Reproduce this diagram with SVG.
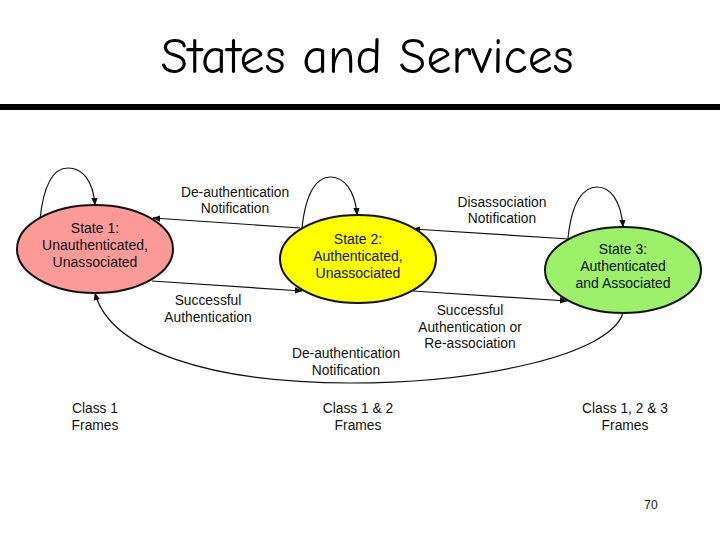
<svg xmlns="http://www.w3.org/2000/svg" width="720" height="540" viewBox="0 0 720 540">
<style>
.lbl{font-family:"Liberation Sans",Arial,sans-serif;font-size:13.8px;fill:#111;text-anchor:middle}
.st{font-family:"Liberation Sans",Arial,sans-serif;font-size:14px;fill:#111;text-anchor:middle}
.edge{fill:none;stroke:#111;stroke-width:1.2;marker-end:url(#ah)}
.node{stroke:#111;stroke-width:2}
</style>
<defs>
<marker id="ah" viewBox="0 0 10 10" refX="9" refY="5" markerWidth="8" markerHeight="8" markerUnits="userSpaceOnUse" orient="auto">
<path d="M0,1 L10,5 L0,9 Z" fill="#111"/>
</marker>
</defs>
<rect width="720" height="540" fill="#fff"/>
<text x="367" y="73" font-family="'Comic Neue','DejaVu Sans',sans-serif" font-size="50" text-anchor="middle" fill="#000">States and Services</text>
<rect x="0" y="104" width="720" height="6" fill="#000"/>

<g id="connectors">
<path class="edge" d="M40,219 C44,182 54,168 68,168 C82,168 93,180 95,205"/>
<path class="edge" d="M302,228 C306,190 318,177 330,177 C344,177 355,190 357,215"/>
<path class="edge" d="M568,238 C572,200 584,187 597,187 C610,187 621,200 623,227"/>
<path class="edge" d="M300,228 L153,218"/>
<path class="edge" d="M152,281 L302,291"/>
<path class="edge" d="M569,239 L413,229"/>
<path class="edge" d="M413,291 L567,301"/>
<path class="edge" d="M623,313 C610,355 480,383 350,383 C210,383 110,350 95,293"/>
</g>

<g id="state1">
<ellipse class="node" cx="95" cy="249" rx="78" ry="44" fill="#fc9a98"/>
<text class="st" x="95" y="233">State 1:</text>
<text class="st" x="95" y="250">Unauthenticated,</text>
<text class="st" x="95" y="267">Unassociated</text>
</g>
<g id="state2">
<ellipse class="node" cx="358" cy="259" rx="78" ry="44" fill="#ffff00"/>
<text class="st" x="358" y="244">State 2:</text>
<text class="st" x="358" y="261">Authenticated,</text>
<text class="st" x="358" y="278">Unassociated</text>
</g>
<g id="state3">
<ellipse class="node" cx="623" cy="270" rx="78" ry="43" fill="#9cf06a"/>
<text class="st" x="623" y="254">State 3:</text>
<text class="st" x="623" y="271">Authenticated</text>
<text class="st" x="623" y="288">and Associated</text>
</g>

<g id="labels">
<text class="lbl" x="235" y="197">De-authentication</text>
<text class="lbl" x="235" y="213">Notification</text>
<text class="lbl" x="208" y="305">Successful</text>
<text class="lbl" x="208" y="322">Authentication</text>
<text class="lbl" x="502" y="207">Disassociation</text>
<text class="lbl" x="502" y="223">Notification</text>
<text class="lbl" x="470" y="315">Successful</text>
<text class="lbl" x="470" y="332">Authentication or</text>
<text class="lbl" x="470" y="348">Re-association</text>
<text class="lbl" x="346" y="358">De-authentication</text>
<text class="lbl" x="346" y="375">Notification</text>
<text class="lbl" x="95" y="413">Class 1</text>
<text class="lbl" x="95" y="430">Frames</text>
<text class="lbl" x="358" y="413">Class 1 &amp; 2</text>
<text class="lbl" x="358" y="430">Frames</text>
<text class="lbl" x="625" y="413">Class 1, 2 &amp; 3</text>
<text class="lbl" x="625" y="430">Frames</text>
<text x="651" y="509" font-family="'Liberation Sans',Arial,sans-serif" font-size="12" text-anchor="middle" fill="#111">70</text>
</g>
</svg>
